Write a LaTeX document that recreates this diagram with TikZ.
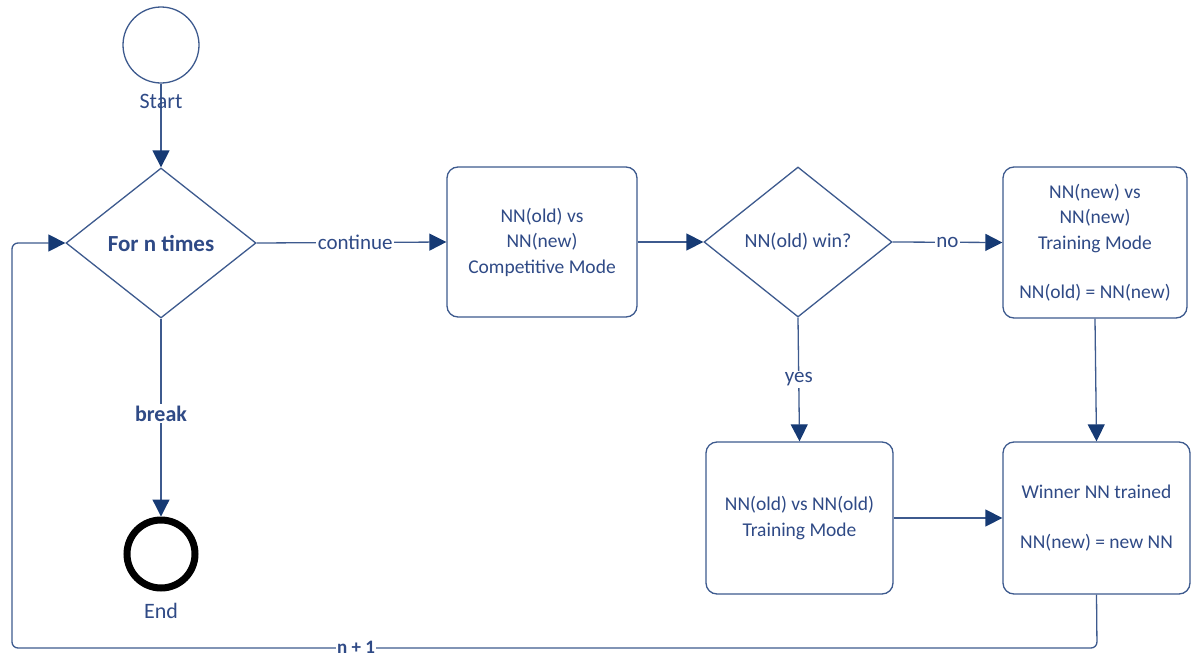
\documentclass[tikz,border=0pt]{standalone}
\usepackage{fontspec}
\setmainfont{Carlito}
\usetikzlibrary{arrows.meta,shapes.geometric,positioning}
\definecolor{edge}{HTML}{3D5A8E}
\definecolor{tip}{HTML}{163A74}
\definecolor{ink}{HTML}{2F4A86}
\tikzset{
  box/.style={draw=edge, line width=1.3pt, rounded corners=11pt, fill=white,
    text=ink, font=\fontsize{19.5}{25.5}\selectfont, align=center, inner sep=0pt},
  decision/.style={draw=edge, line width=1.3pt, diamond, aspect=1.27, fill=white,
    text=ink, inner sep=0pt},
  flow/.style={draw=edge, line width=1.3pt, -{Triangle[length=17pt,width=17pt,fill=tip,color=tip]}},
  tag/.style={fill=white, text=ink, inner sep=1.5pt, font=\fontsize{21}{24}\selectfont},
  caption/.style={text=ink, inner sep=0pt, font=\fontsize{22}{24}\selectfont},
}
\begin{document}
\begin{tikzpicture}[x=1pt,y=-1pt]
\useasboundingbox (0,0) rectangle (1192,659);

% events
\node[circle, draw=edge, line width=1.3pt, minimum size=76pt, inner sep=0pt] (start) at (161,45) {};
\node[circle, draw=black, line width=7pt, minimum size=68pt, inner sep=0pt] (end) at (161,554) {};

% decisions
\node[decision, minimum width=190pt, minimum height=150pt,
      font=\fontsize{23}{26}\selectfont\bfseries] (loop) at (161,243) {For n times};
\node[decision, minimum width=188pt, minimum height=150pt,
      font=\fontsize{20}{24}\selectfont] (win) at (798,242) {NN(old) win?};

% activities
\node[box, minimum width=190pt, minimum height=150pt] (comp) at (542,242)
  {NN(old) vs\\NN(new)\\Competitive Mode};
\node[box, minimum width=184pt, minimum height=151pt] (newtrain) at (1095,242.5)
  {NN(new) vs\\NN(new)\\Training Mode\\[24pt]NN(old) = NN(new)};
\node[box, minimum width=187pt, minimum height=152pt] (oldtrain) at (799.5,518)
  {NN(old) vs NN(old)\\Training Mode};
\node[box, minimum width=187pt, minimum height=152pt] (winner) at (1096.5,518)
  {Winner NN trained\\[25pt]NN(new) = new NN};

% connectors
\draw[flow] (start.south) -- (loop.north);
\node[caption] (startlbl) at (161,101) {Start};
\node[caption] (endlbl) at (161,611) {End};

\draw[flow] (loop.east) -- node[tag, pos=0.52] {continue} (comp.west);
\draw[flow] (comp.east) -- (win.west);
\draw[flow] (win.east) -- node[tag, pos=0.5] {no} (newtrain.west);
\draw[flow] (win.south) -- node[tag, pos=0.5] {yes} (oldtrain.north);
\draw[flow] (newtrain.south) -- (winner.north);
\draw[flow] (oldtrain.east |- winner.west) -- (winner.west);
\draw[flow] (loop.south) -- node[tag, pos=0.48, font=\fontsize{22}{24}\selectfont\bfseries] {break} (end.north);

% loop back to the decision
\coordinate (cornerR) at (1097,648);
\coordinate (cornerL) at (12,648);
\draw[flow, rounded corners=6pt] (winner.south) -- (cornerR) -- (cornerL) -- (12,243) -- (loop.west);
\node[fill=white, text=ink, inner xsep=1.5pt, inner ysep=0pt,
      font=\fontsize{19}{20}\selectfont\bfseries] (inc) at (356,647) {n + 1};
\end{tikzpicture}
\end{document}
